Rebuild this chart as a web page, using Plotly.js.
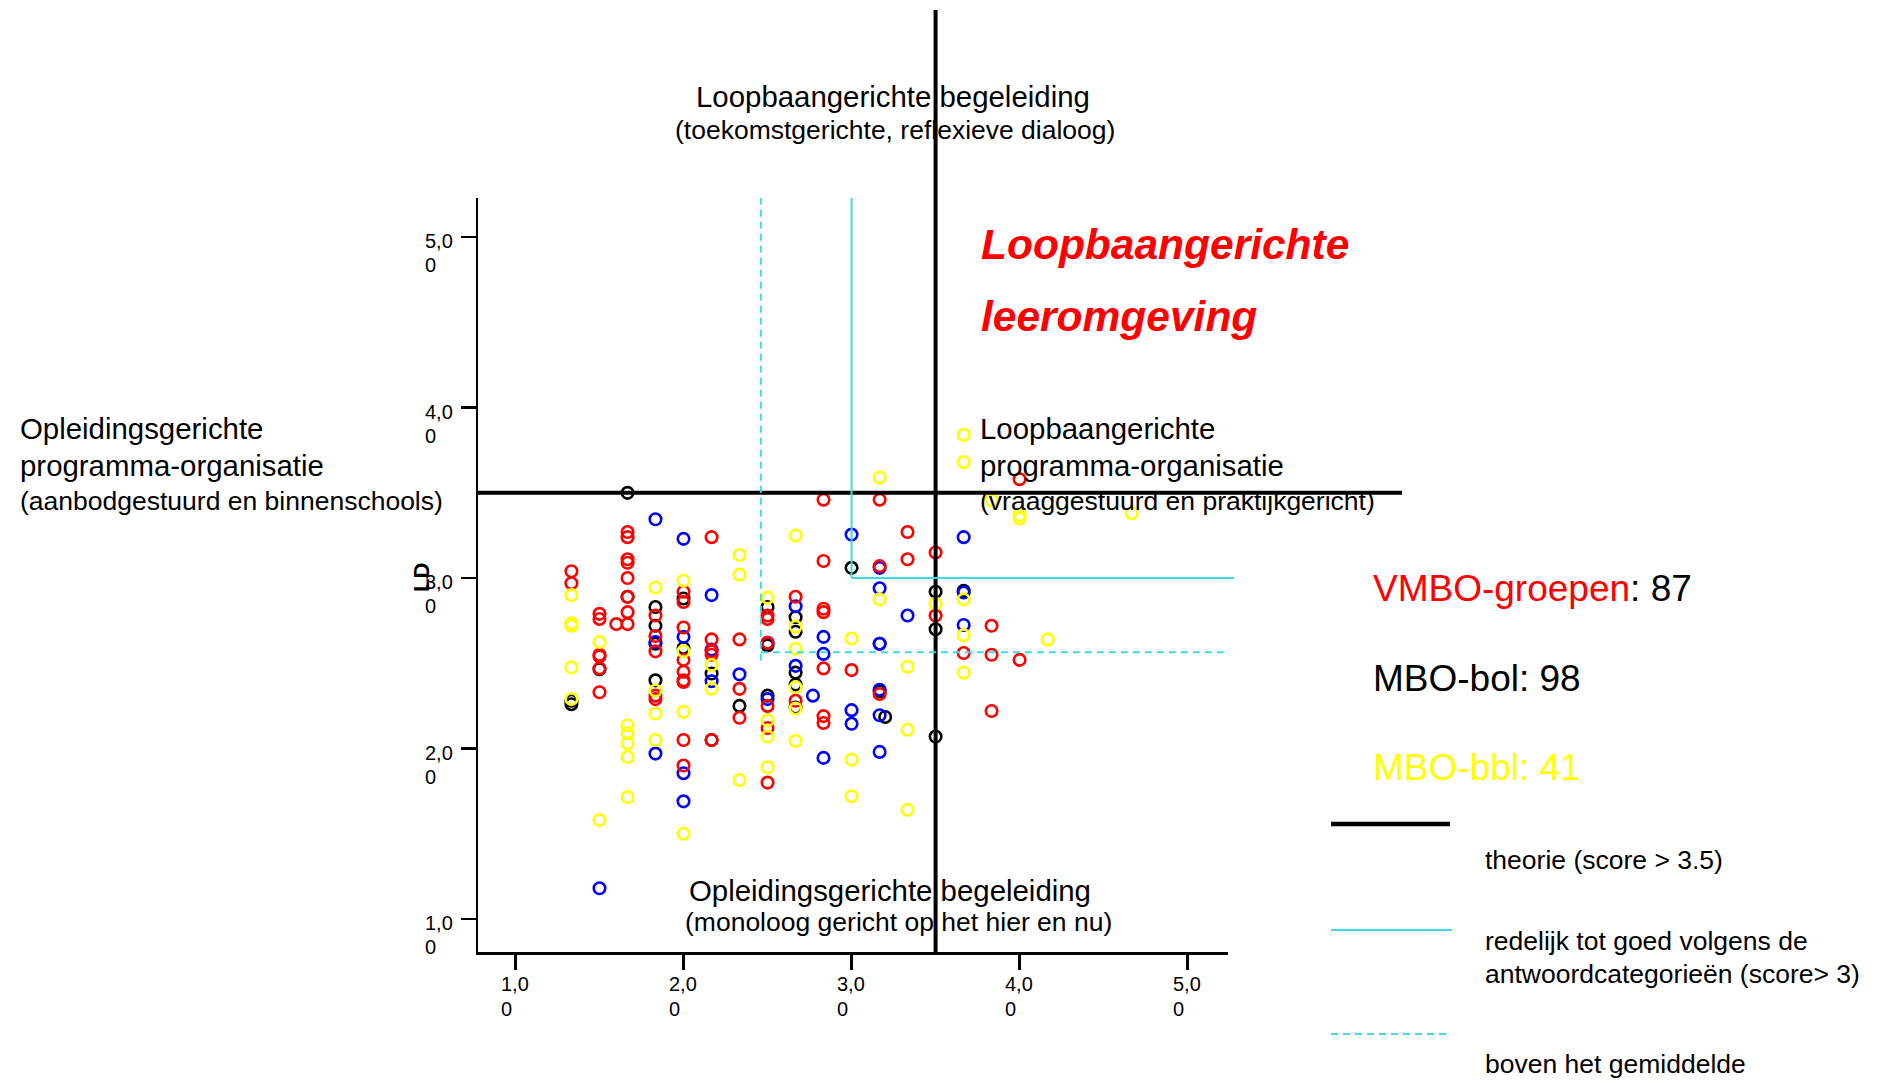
<!DOCTYPE html>
<html>
<head>
<meta charset="utf-8">
<script src="https://cdn.plot.ly/plotly-3.0.1.min.js"></script>
<style>html,body{margin:0;padding:0;background:#fff;}#chart{width:1877px;height:1083px;}</style>
</head>
<body>
<div id="chart"></div>
<script>
// ---------------- data ----------------
const tickVals = [1, 2, 3, 4, 5];
const tickLabels = ['1,00', '2,00', '3,00', '4,00', '5,00'];

const redX = [1.333,1.333, 1.5,1.5,1.5,1.5,1.5,1.5, 1.6,
  1.667,1.667,1.667,1.667,1.667,1.667,1.667,1.667,
  1.833,1.833,1.833,1.833,1.833,
  2.0,2.0,2.0,2.0,2.0,2.0,2.0,2.0,2.0,
  2.167,2.167,2.167,2.167,2.167,
  2.333,2.333,2.333,
  2.5,2.5,2.5,2.5,2.5,2.5,
  2.667,2.667,
  2.833,2.833,2.833,2.833,2.833,2.833,2.833,
  3.0,
  3.167,3.167,3.167,
  3.333,3.333,
  3.5,3.5,
  3.667,
  3.833,3.833,3.833,
  4.0,4.0];
const redY = [3.04,2.97, 2.79,2.76,2.55,2.54,2.47,2.33, 2.73,
  3.27,3.24,3.11,3.09,3.00,2.89,2.80,2.73,
  2.78,2.66,2.57,2.31,2.29,
  2.92,2.86,2.71,2.52,2.45,2.40,2.39,2.05,1.90,
  3.24,2.64,2.57,2.55,2.05,
  2.64,2.35,2.18,
  2.78,2.76,2.62,2.25,2.12,1.80,
  2.89,2.28,
  3.46,3.10,2.82,2.80,2.47,2.19,2.15,
  2.46,
  3.46,3.07,2.32,
  3.27,3.11,
  3.15,2.78,
  2.56,
  2.72,2.55,2.22,
  3.58,2.52];

const blackX = [1.333,1.333, 1.5, 1.667,1.667, 1.833,1.833,1.833,1.833, 2.0,2.0, 2.167,2.167, 2.333,
  2.5,2.5,2.5, 2.667,2.667,2.667,2.667,2.667, 3.0, 3.167,3.167, 3.2, 3.5,3.5,3.5, 3.667];
const blackY = [2.28,2.26, 2.465, 3.50,2.89, 2.83,2.72,2.615,2.40, 2.88,2.59, 2.44,2.05, 2.25,
  2.83,2.605,2.31, 2.77,2.685,2.445,2.375,2.24, 3.06, 2.615,2.335, 2.185, 2.92,2.70,2.07, 2.925];

const blueX = [1.5, 1.833,1.833,1.833, 2.0,2.0,2.0,2.0, 2.167,2.167,2.167, 2.333, 2.5,2.5, 2.667,2.667, 2.77,
  2.833,2.833,2.833, 3.0,3.0,3.0, 3.167,3.167,3.167,3.167,3.167,3.167, 3.333, 3.667,3.667,3.667];
const blueY = [1.18, 3.345,2.625,1.97, 3.23,2.655,1.855,1.69, 2.90,2.58,2.395, 2.435, 2.62,2.29, 2.835,2.485, 2.31,
  2.655,2.555,1.945, 3.255,2.225,2.145, 3.06,2.94,2.615,2.345,2.195,1.98, 2.78, 3.24,2.915,2.725];

const yellowX = [1.333,1.333,1.333,1.333,1.333, 1.5,1.5, 1.667,1.667,1.667,1.667,1.667,
  1.833,1.833,1.833,1.833, 2.0,2.0,2.0,2.0, 2.167,2.167, 2.333,2.333,2.333,
  2.5,2.5,2.5,2.5, 2.667,2.667,2.667,2.667,2.667,2.667, 3.0,3.0,3.0, 3.167,3.167,
  3.333,3.333,3.333, 3.5, 3.667,3.667,3.667,3.667,3.667, 3.833, 4.0,4.0, 4.167, 4.667];
const yellowY = [2.90,2.735,2.72,2.475,2.29, 2.625,1.58, 2.135,2.09,2.03,1.95,1.715,
  2.945,2.34,2.205,2.05, 2.985,2.57,2.215,1.50, 2.49,2.35, 3.135,3.02,1.815,
  2.885,2.165,2.07,1.89, 3.25,2.715,2.585,2.36,2.235,2.045, 2.645,1.935,1.72, 3.59,2.875,
  2.48,2.11,1.64, 2.85, 3.84,3.68,2.875,2.665,2.445, 3.455, 3.37,3.35, 2.64, 3.38];

// reference lines
const theoryX = 3.5, theoryY = 3.5;      // theorie (score > 3.5)
const goodX = 3.0, goodY = 3.0;          // redelijk tot goed (score > 3)
const meanX = 2.46, meanY = 2.565;       // boven het gemiddelde

const groupNames = ['VMBO-groepen', 'MBO-bol', 'MBO-bbl'];
const groupCounts = [87, 98, 41];

// ---------------- geometry ----------------
const FW = 1877, FH = 1083;
const L = 478, T = 198, W = 750, H = 754;
const X0 = 0.777, X1 = 5.24, Y0 = 0.806, Y1 = 5.23;
const FONT = 'Liberation Sans, Arial, sans-serif';
const CYAN = '#3ddbe3';

const pX = p => (p - L) / W;
const pY = p => 1 - (p - T) / H;
const dX = v => (v - X0) / (X1 - X0);
const dY = v => (v - Y0) / (Y1 - Y0);

function mk(x, y, color) {
  return {
    type: 'scatter', mode: 'markers', x: x, y: y, hoverinfo: 'skip',
    marker: {symbol: 'circle-open', size: 11.5, color: color, line: {width: 2.6, color: color}},
    showlegend: false
  };
}
const traces = [mk(blackX, blackY, '#000000'), mk(blueX, blueY, '#0000ff'),
                mk(redX, redY, '#ff0000'), mk(yellowX, yellowY, '#ffff00')];

function txt(text, x, y, size, opts) {
  return Object.assign({
    text: text, xref: 'paper', yref: 'paper', x: pX(x), y: pY(y),
    xanchor: 'left', yanchor: 'middle', showarrow: false,
    font: {family: FONT, size: size, color: '#000'}
  }, opts || {});
}

const ann = [];
// tick labels (wrapped "x,0" / "0")
tickVals.forEach((v, i) => {
  const lab = tickLabels[i];
  ann.push({text: lab.slice(0, 3), xref: 'paper', yref: 'y', x: pX(423), y: v, yshift: -4,
    xanchor: 'left', yanchor: 'middle', showarrow: false, font: {family: FONT, size: 20, color: '#000'}});
  ann.push({text: lab.slice(3), xref: 'paper', yref: 'y', x: pX(423), y: v, yshift: -28,
    xanchor: 'left', yanchor: 'middle', showarrow: false, font: {family: FONT, size: 20, color: '#000'}});
  ann.push({text: lab.slice(0, 3), xref: 'x', yref: 'paper', x: v, xshift: -16.5, y: pY(984),
    xanchor: 'left', yanchor: 'middle', showarrow: false, font: {family: FONT, size: 20, color: '#000'}});
  ann.push({text: lab.slice(3), xref: 'x', yref: 'paper', x: v, xshift: -16.5, y: pY(1009),
    xanchor: 'left', yanchor: 'middle', showarrow: false, font: {family: FONT, size: 20, color: '#000'}});
});
// y axis title
ann.push(txt('<b>LD</b>', 421, 578, 22, {xanchor: 'center', textangle: -90}));

// quadrant texts
ann.push(txt('Loopbaangerichte begeleiding', 893, 97, 29.4, {xanchor: 'center'}));
ann.push(txt('(toekomstgerichte, reflexieve dialoog)', 895, 130, 26.5, {xanchor: 'center'}));
ann.push(txt('Opleidingsgerichte', 18, 429, 29.4));
ann.push(txt('programma-organisatie', 18, 465, 29.4));
ann.push(txt('(aanbodgestuurd en binnenschools)', 18, 501, 26.5));
ann.push(txt('Loopbaangerichte', 978, 429, 29.4));
ann.push(txt('programma-organisatie', 978, 465, 29.4));
ann.push(txt('(vraaggestuurd en praktijkgericht)', 978, 501, 26.5));
ann.push(txt('Opleidingsgerichte begeleiding', 890, 890, 29.4, {xanchor: 'center'}));
ann.push(txt('(monoloog gericht op het hier en nu)', 898, 922, 26.5, {xanchor: 'center'}));
ann.push(txt('<b><i>Loopbaangerichte</i></b>', 979, 244, 42.5, {font: {family: FONT, size: 42.5, color: '#ff0000'}}));
ann.push(txt('<b><i>leeromgeving</i></b>', 979, 316, 42.5, {font: {family: FONT, size: 42.5, color: '#ff0000'}}));

// group counts
ann.push(txt('<span style="color:#ff0000">' + groupNames[0] + '</span>: ' + groupCounts[0], 1371, 588, 37));
ann.push(txt(groupNames[1] + ': ' + groupCounts[1], 1371, 678, 37));
ann.push(txt(groupNames[2] + ': ' + groupCounts[2], 1371, 767, 37, {font: {family: FONT, size: 37, color: '#ffff00'}}));

// line legend texts
ann.push(txt('theorie (score &gt; 3.5)', 1483, 860, 26.5));
ann.push(txt('redelijk tot goed volgens de', 1483, 941, 26.5));
ann.push(txt('antwoordcategorieën (score&gt; 3)', 1483, 974, 26.5));
ann.push(txt('boven het gemiddelde', 1483, 1064, 26.5));

const shapes = [
  // theory lines
  {type: 'line', xref: 'paper', yref: 'paper', x0: dX(theoryX), x1: dX(theoryX), y0: 0, y1: pY(10), line: {color: '#000', width: 4}},
  {type: 'line', xref: 'paper', yref: 'paper', x0: 0, x1: pX(1402), y0: dY(theoryY), y1: dY(theoryY), line: {color: '#000', width: 4}},
  // good (score > 3)
  {type: 'line', xref: 'paper', yref: 'paper', x0: dX(goodX), x1: dX(goodX), y0: dY(goodY), y1: 1, line: {color: CYAN, width: 2}},
  {type: 'line', xref: 'paper', yref: 'paper', x0: dX(goodX), x1: pX(1234), y0: dY(goodY), y1: dY(goodY), line: {color: CYAN, width: 2}},
  // mean
  {type: 'line', xref: 'paper', yref: 'paper', x0: dX(meanX), x1: dX(meanX), y0: dY(2.515), y1: 1, line: {color: CYAN, width: 2, dash: '7px,5px'}},
  {type: 'line', xref: 'paper', yref: 'paper', x0: dX(meanX), x1: 0.997, y0: dY(meanY), y1: dY(meanY), line: {color: CYAN, width: 2, dash: '7px,5px'}},
  // legend lines
  {type: 'line', xref: 'paper', yref: 'paper', x0: pX(1331), x1: pX(1450), y0: pY(824), y1: pY(824), line: {color: '#000', width: 4.5}},
  {type: 'line', xref: 'paper', yref: 'paper', x0: pX(1331), x1: pX(1452), y0: pY(930), y1: pY(930), line: {color: CYAN, width: 2}},
  {type: 'line', xref: 'paper', yref: 'paper', x0: pX(1331), x1: pX(1450), y0: pY(1034), y1: pY(1034), line: {color: CYAN, width: 2, dash: '7px,5px'}}
];

const axisCommon = {
  showgrid: false, zeroline: false, showline: true, linecolor: '#000', linewidth: 2.5,
  ticks: 'outside', ticklen: 15, tickwidth: 2.5, tickcolor: '#000',
  tickmode: 'array', tickvals: tickVals, showticklabels: false, fixedrange: true
};

const layout = {
  width: FW, height: FH,
  margin: {l: L, r: FW - L - W, t: T, b: FH - T - H, pad: 0},
  paper_bgcolor: '#fff', plot_bgcolor: '#fff',
  font: {family: FONT, color: '#000'},
  xaxis: Object.assign({range: [X0, X1]}, axisCommon),
  yaxis: Object.assign({range: [Y0, Y1]}, axisCommon),
  showlegend: false,
  annotations: ann,
  shapes: shapes
};

Plotly.newPlot('chart', traces, layout, {displayModeBar: false, staticPlot: true});
</script>
</body>
</html>
